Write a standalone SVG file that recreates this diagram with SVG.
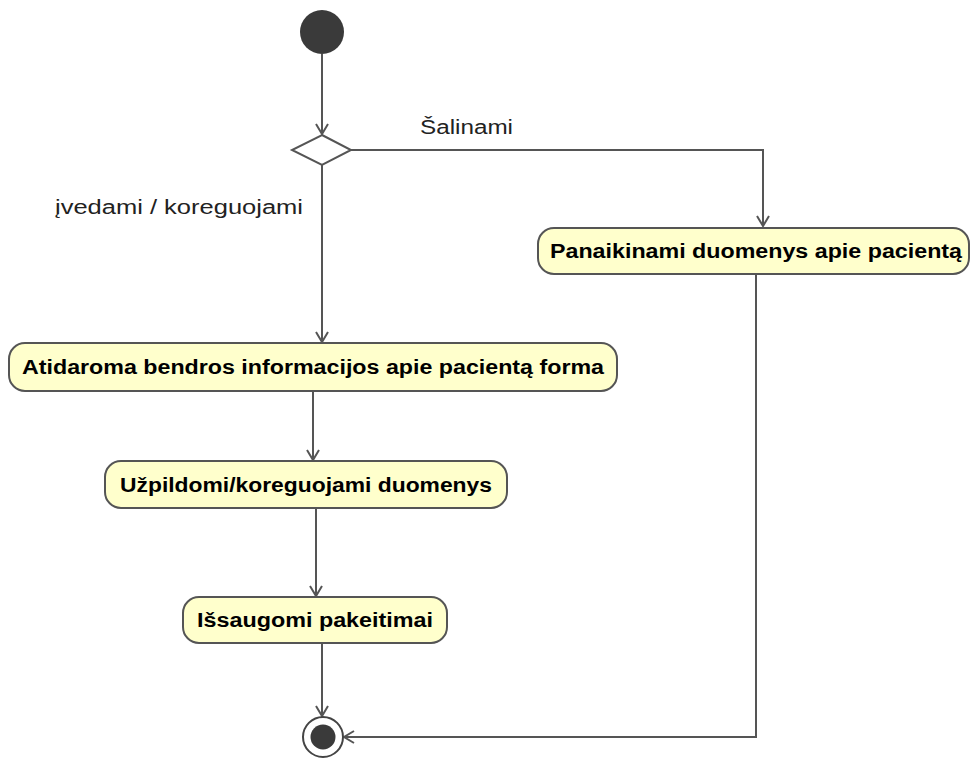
<svg xmlns="http://www.w3.org/2000/svg" width="973" height="758" viewBox="0 0 973 758">
  <style>
    .action rect { fill: #ffffcc; stroke: #555555; stroke-width: 2; }
    .action text { font-family: "Liberation Sans", Arial, sans-serif; font-weight: bold; font-size: 20px; fill: #000000; text-anchor: middle; }
    .edge { fill: none; stroke: #555555; stroke-width: 2; }
    .guard { font-family: "Liberation Sans", Arial, sans-serif; font-size: 20px; fill: #222222; }
  </style>
  <defs>
    <marker id="open-arrow" markerWidth="14" markerHeight="14" refX="11" refY="7" orient="auto" markerUnits="userSpaceOnUse">
      <path d="M1,1 L11,7 L1,13" fill="none" stroke="#555555" stroke-width="2"/>
    </marker>
  </defs>
  <rect width="973" height="758" fill="#ffffff"/>

  <!-- control flow -->
  <g id="connectors">
    <path class="edge" d="M322,54 L322,134" marker-end="url(#open-arrow)"/>
    <path class="edge" d="M351,150 L763,150 L763,226" marker-end="url(#open-arrow)"/>
    <path class="edge" d="M322,165 L322,342" marker-end="url(#open-arrow)"/>
    <path class="edge" d="M313,391 L313,460" marker-end="url(#open-arrow)"/>
    <path class="edge" d="M316,508 L316,596" marker-end="url(#open-arrow)"/>
    <path class="edge" d="M322,643 L322,716" marker-end="url(#open-arrow)"/>
    <path class="edge" d="M756,274 L756,737 L344,737" marker-end="url(#open-arrow)"/>
    <text class="guard" x="420" y="134" textLength="93" lengthAdjust="spacingAndGlyphs">Šalinami</text>
    <text class="guard" x="55" y="214" textLength="248" lengthAdjust="spacingAndGlyphs">įvedami / koreguojami</text>
  </g>

  <g id="start">
    <circle cx="322" cy="32" r="22" fill="#3a3a3a"/>
  </g>

  <g id="decision">
    <polygon points="322,135 351,150 322,165 292,150" fill="#ffffff" stroke="#555555" stroke-width="2"/>
  </g>

  <g id="remove-patient" class="action">
    <rect x="538" y="228" width="431" height="46" rx="16"/>
    <text x="756" y="258" textLength="412" lengthAdjust="spacingAndGlyphs">Panaikinami duomenys apie pacientą</text>
  </g>

  <g id="open-form" class="action">
    <rect x="9" y="343" width="608" height="48" rx="16"/>
    <text x="313" y="374" textLength="582" lengthAdjust="spacingAndGlyphs">Atidaroma bendros informacijos apie pacientą forma</text>
  </g>

  <g id="fill-data" class="action">
    <rect x="105" y="461" width="402" height="47" rx="16"/>
    <text x="306" y="492" textLength="372" lengthAdjust="spacingAndGlyphs">Užpildomi/koreguojami duomenys</text>
  </g>

  <g id="save-changes" class="action">
    <rect x="183" y="597" width="264" height="46" rx="16"/>
    <text x="315" y="627" textLength="236" lengthAdjust="spacingAndGlyphs">Išsaugomi pakeitimai</text>
  </g>

  <g id="end">
    <circle cx="323" cy="737" r="20" fill="#ffffff" stroke="#444444" stroke-width="2"/>
    <circle cx="323" cy="737" r="12.5" fill="#3a3a3a"/>
  </g>
</svg>
